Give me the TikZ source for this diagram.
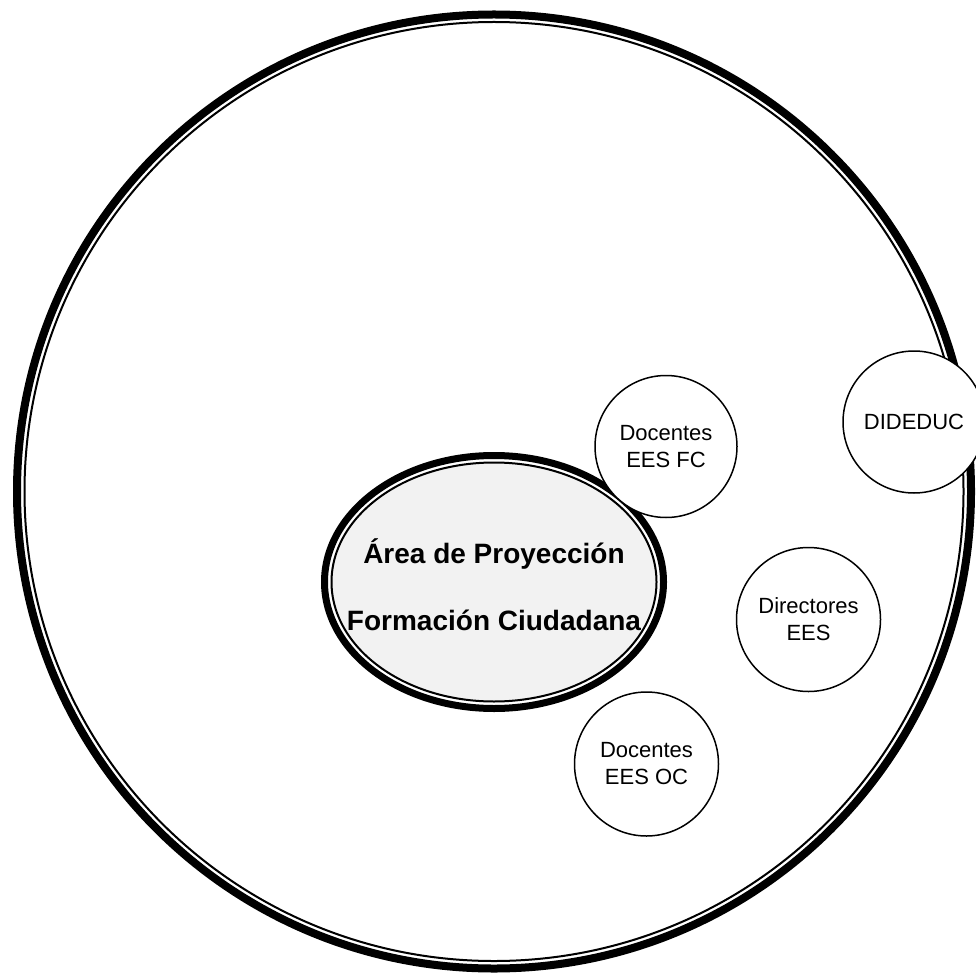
\documentclass[tikz,border=0pt]{standalone}
\usepackage{fontspec}
\setmainfont{Liberation Sans}
\definecolor{areagray}{RGB}{242,242,242}
\tikzset{
  bubble/.style={circle, draw=black, line width=1.5pt, fill=white,
    minimum size=#1, inner sep=0pt, align=center,
    font=\fontsize{22}{27}\selectfont},
  titletext/.style={anchor=base, inner sep=0pt, font=\fontsize{28}{34}\selectfont\bfseries}
}
\begin{document}
\begin{tikzpicture}[x=1pt,y=-1pt]
\useasboundingbox (0,0) rectangle (976,973);
% outer circle (thick-thin double line)
\coordinate (bigc) at (494,491.5);
\draw[line width=8pt] (bigc) circle[radius=477pt];
\draw[line width=2pt] (bigc) circle[radius=469.5pt];
% central ellipse: thick outer line, white gap, thin inner line, grey inside
\coordinate (areac) at (494,582);
\draw[line width=7pt, fill=white] (areac) ellipse[x radius=169.5pt, y radius=126.5pt];
\draw[line width=2pt, fill=areagray] (areac) ellipse[x radius=162.5pt, y radius=119.5pt];
\node[titletext] (t1) at (494,563) {Área de Proyección};
\node[titletext] (t2) at (494,630) {Formación Ciudadana};
% small circles
\node[bubble=142pt] (fc) at (666,446.5) {Docentes\\EES FC};
\node[bubble=142pt] (dideduc) at (914,422) {DIDEDUC};
\node[bubble=144pt] (dir) at (808.5,619.5) {Directores\\EES};
\node[bubble=144pt] (oc) at (646.5,764) {Docentes\\EES OC};
\end{tikzpicture}
\end{document}
